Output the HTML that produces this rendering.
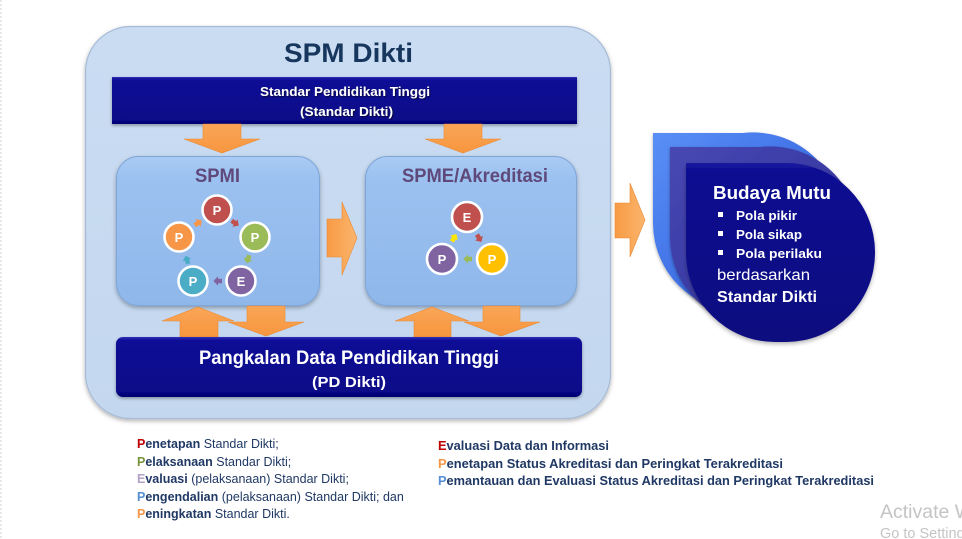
<!DOCTYPE html>
<html>
<head>
<meta charset="utf-8">
<style>
html,body{margin:0;padding:0;background:#ffffff;}
body{width:962px;height:539px;overflow:hidden;position:relative;}
svg{position:absolute;left:0;top:0;}
text{font-family:"Liberation Sans",sans-serif;}
</style>
</head>
<body>
<svg width="962" height="539" viewBox="0 0 962 539" xmlns="http://www.w3.org/2000/svg">
<defs>
  <linearGradient id="bigbox" x1="0" y1="0" x2="0" y2="1">
    <stop offset="0" stop-color="#cadcf2"/>
    <stop offset="1" stop-color="#c3d7ef"/>
  </linearGradient>
  <linearGradient id="navy" x1="0" y1="0" x2="0" y2="1">
    <stop offset="0" stop-color="#3030b8"/>
    <stop offset="0.06" stop-color="#0a0a96"/>
    <stop offset="0.9" stop-color="#070789"/>
    <stop offset="1" stop-color="#050570"/>
  </linearGradient>
  <linearGradient id="inner" x1="0" y1="0" x2="0" y2="1">
    <stop offset="0" stop-color="#a9cbf4"/>
    <stop offset="0.15" stop-color="#9bc1f0"/>
    <stop offset="1" stop-color="#8fb7ea"/>
  </linearGradient>
  <linearGradient id="orangeV" x1="0" y1="0" x2="0" y2="1">
    <stop offset="0" stop-color="#f9a657"/>
    <stop offset="1" stop-color="#f7963f"/>
  </linearGradient>
  <linearGradient id="orangeH" x1="0" y1="0" x2="1" y2="0">
    <stop offset="0" stop-color="#f79a45"/>
    <stop offset="1" stop-color="#fbb56c"/>
  </linearGradient>
  <linearGradient id="drop1" x1="0" y1="0" x2="1" y2="1">
    <stop offset="0" stop-color="#5a8ff6"/>
    <stop offset="1" stop-color="#2452d6"/>
  </linearGradient>
  <linearGradient id="drop2" x1="0" y1="0" x2="1" y2="1">
    <stop offset="0" stop-color="#4848b4"/>
    <stop offset="1" stop-color="#2e2e96"/>
  </linearGradient>
  <linearGradient id="drop3" x1="0" y1="0" x2="0" y2="1">
    <stop offset="0" stop-color="#1a1aa0"/>
    <stop offset="0.05" stop-color="#0b0b92"/>
    <stop offset="1" stop-color="#08087f"/>
  </linearGradient>
  <filter id="sh" x="-10%" y="-10%" width="120%" height="130%">
    <feDropShadow dx="0" dy="2" stdDeviation="2" flood-color="#000" flood-opacity="0.3"/>
  </filter>
  <filter id="sh2" x="-10%" y="-10%" width="120%" height="130%">
    <feDropShadow dx="0" dy="1.5" stdDeviation="1.5" flood-color="#000" flood-opacity="0.35"/>
  </filter>
  <filter id="tsh" x="-5%" y="-20%" width="110%" height="140%">
    <feDropShadow dx="1" dy="1" stdDeviation="0.6" flood-color="#000" flood-opacity="0.6"/>
  </filter>
  <g id="sa"><polygon points="-4,-2.3 0,-2.3 0,-4.6 4.6,0 0,4.6 0,2.3 -4,2.3"/></g>
</defs>

<!-- faint left dotted line -->
<line x1="1" y1="0" x2="1" y2="539" stroke="#cfcfcf" stroke-width="1" stroke-dasharray="2,2"/>

<!-- big box -->
<rect x="85.5" y="26.5" width="525" height="392" rx="45" ry="45" fill="url(#bigbox)" stroke="#a7bbd6" stroke-width="1.2" filter="url(#sh)"/>

<text x="284" y="62" font-size="27" font-weight="bold" fill="#17365d" textLength="129" lengthAdjust="spacingAndGlyphs">SPM Dikti</text>

<!-- top bar -->
<rect x="112" y="77" width="465" height="47" fill="url(#navy)" filter="url(#sh2)"/>
<text x="260" y="96" font-size="13" font-weight="bold" fill="#ffffff" textLength="170" lengthAdjust="spacingAndGlyphs" filter="url(#tsh)">Standar Pendidikan Tinggi</text>
<text x="300" y="116" font-size="13" font-weight="bold" fill="#ffffff" textLength="93" lengthAdjust="spacingAndGlyphs" filter="url(#tsh)">(Standar Dikti)</text>

<!-- top down arrows -->
<polygon points="203,124 241,124 241,139 260,139 222,153 184,139 203,139" fill="url(#orangeV)" stroke="#e98a35" stroke-width="0.6"/>
<polygon points="444,124 482,124 482,139 501,139 463,153 425,139 444,139" fill="url(#orangeV)" stroke="#e98a35" stroke-width="0.6"/>

<!-- SPMI box -->
<rect x="116.5" y="156.5" width="203" height="149" rx="22" ry="22" fill="url(#inner)" stroke="#7fa6d9" stroke-width="1" filter="url(#sh)"/>
<text x="195" y="182" font-size="19" font-weight="bold" fill="#5f497a" textLength="45" lengthAdjust="spacingAndGlyphs">SPMI</text>

<!-- SPME box -->
<rect x="365.5" y="156.5" width="211" height="149" rx="22" ry="22" fill="url(#inner)" stroke="#7fa6d9" stroke-width="1" filter="url(#sh)"/>
<text x="402" y="182" font-size="19" font-weight="bold" fill="#5f497a" textLength="146" lengthAdjust="spacingAndGlyphs">SPME/Akreditasi</text>

<!-- middle arrow -->
<polygon points="327,219 342,219 342,202 357,238 342,275 342,257 327,257" fill="url(#orangeH)" stroke="#e98a35" stroke-width="0.6"/>

<!-- SPMI cycle circles -->
<g stroke="#ffffff" stroke-width="2.6">
  <circle cx="217" cy="210" r="14.5" fill="#c0504d"/>
  <circle cx="255" cy="237" r="14.5" fill="#9bbb59"/>
  <circle cx="241" cy="281" r="14.5" fill="#8064a2"/>
  <circle cx="193" cy="281" r="14.5" fill="#4bacc6"/>
  <circle cx="179" cy="237" r="14.5" fill="#f79646"/>
</g>
<g font-size="13" font-weight="bold" fill="#ffffff" text-anchor="middle">
  <text x="217" y="215">P</text>
  <text x="255" y="242">P</text>
  <text x="241" y="286">E</text>
  <text x="193" y="286">P</text>
  <text x="179" y="242">P</text>
</g>
<use href="#sa" transform="translate(235,223) rotate(35)" fill="#c0504d"/>
<use href="#sa" transform="translate(248,259) rotate(108)" fill="#9bbb59"/>
<use href="#sa" transform="translate(218,281) rotate(180)" fill="#8064a2"/>
<use href="#sa" transform="translate(187,260) rotate(-108)" fill="#4bacc6"/>
<use href="#sa" transform="translate(198,223) rotate(-35)" fill="#f79646"/>

<!-- SPME cycle -->
<g stroke="#ffffff" stroke-width="2.6">
  <circle cx="467" cy="217" r="15" fill="#c0504d"/>
  <circle cx="492" cy="259" r="15" fill="#ffc000"/>
  <circle cx="442" cy="259" r="15" fill="#8064a2"/>
</g>
<g font-size="13" font-weight="bold" fill="#ffffff" text-anchor="middle">
  <text x="467" y="222">E</text>
  <text x="492" y="264">P</text>
  <text x="442" y="264">P</text>
</g>
<use href="#sa" transform="translate(479,238) rotate(59)" fill="#c0504d"/>
<use href="#sa" transform="translate(468,259) rotate(180)" fill="#9bbb59"/>
<use href="#sa" transform="translate(454,238) rotate(-59)" fill="#ffe600"/>

<!-- bottom arrows -->
<polygon points="198,307 234,321 218,321 218,337 180,337 180,321 162,321" fill="url(#orangeV)" stroke="#e98a35" stroke-width="0.6"/>
<polygon points="247,306 285,306 285,322 304,322 266,336 228,322 247,322" fill="url(#orangeV)" stroke="#e98a35" stroke-width="0.6"/>
<polygon points="432,307 469,321 451,321 451,337 414,337 414,321 395,321" fill="url(#orangeV)" stroke="#e98a35" stroke-width="0.6"/>
<polygon points="483,306 520,306 520,322 540,322 501,336 464,322 483,322" fill="url(#orangeV)" stroke="#e98a35" stroke-width="0.6"/>

<!-- PD Dikti bar -->
<rect x="116" y="337" width="466" height="60" rx="7" ry="7" fill="url(#navy)" filter="url(#sh2)"/>
<text x="199" y="364" font-size="19" font-weight="bold" fill="#ffffff" textLength="300" lengthAdjust="spacingAndGlyphs">Pangkalan Data Pendidikan Tinggi</text>
<text x="312" y="387" font-size="15" font-weight="bold" fill="#ffffff" textLength="74" lengthAdjust="spacingAndGlyphs">(PD Dikti)</text>

<!-- arrow to budaya -->
<polygon points="615,203 630,203 630,183 645,220 630,257 630,238 615,238" fill="url(#orangeH)" stroke="#e98a35" stroke-width="0.6"/>

<!-- Budaya Mutu teardrops -->
<path d="M653,133 H743 A89,89 0 0 1 842,222 V223 A89,89 0 0 1 753,312 H742 A89,89 0 0 1 653,223 Z" fill="url(#drop1)" filter="url(#sh2)"/>
<path d="M670,147 H760 A89,89 0 0 1 859,236 V237 A89,89 0 0 1 770,326 H759 A89,89 0 0 1 670,237 Z" fill="url(#drop2)" filter="url(#sh2)"/>
<path d="M686,163 H786 A89,89 0 0 1 875,252 V253 A89,89 0 0 1 786,342 H775 A89,89 0 0 1 686,253 Z" fill="url(#drop3)" filter="url(#sh)"/>

<text x="713" y="199" font-size="18" font-weight="bold" fill="#ffffff" textLength="118" lengthAdjust="spacingAndGlyphs">Budaya Mutu</text>
<rect x="718" y="212" width="5" height="5" fill="#ffffff"/>
<rect x="718" y="231" width="5" height="5" fill="#ffffff"/>
<rect x="718" y="250" width="5" height="5" fill="#ffffff"/>
<text x="736" y="220" font-size="13" font-weight="bold" fill="#ffffff" textLength="61" lengthAdjust="spacingAndGlyphs">Pola pikir</text>
<text x="736" y="239" font-size="13" font-weight="bold" fill="#ffffff" textLength="66" lengthAdjust="spacingAndGlyphs">Pola sikap</text>
<text x="736" y="258" font-size="13" font-weight="bold" fill="#ffffff" textLength="86" lengthAdjust="spacingAndGlyphs">Pola perilaku</text>
<text x="717" y="280" font-size="16" fill="#ffffff" textLength="93" lengthAdjust="spacingAndGlyphs">berdasarkan</text>
<text x="717" y="302" font-size="16" font-weight="bold" fill="#ffffff" textLength="100" lengthAdjust="spacingAndGlyphs">Standar Dikti</text>

<!-- bottom-left legend -->
<g font-size="12.5" fill="#1f3864">
  <text x="137" y="448"><tspan font-weight="bold" fill="#c00000">P</tspan><tspan font-weight="bold">enetapan</tspan> Standar Dikti;</text>
  <text x="137" y="466"><tspan font-weight="bold" fill="#77933c">P</tspan><tspan font-weight="bold">elaksanaan</tspan> Standar Dikti;</text>
  <text x="137" y="483"><tspan font-weight="bold" fill="#b3a2c7">E</tspan><tspan font-weight="bold">valuasi</tspan> (pelaksanaan) Standar Dikti;</text>
  <text x="137" y="501"><tspan font-weight="bold" fill="#558ed5">P</tspan><tspan font-weight="bold">engendalian</tspan> (pelaksanaan) Standar Dikti; dan</text>
  <text x="137" y="518"><tspan font-weight="bold" fill="#f79646">P</tspan><tspan font-weight="bold">eningkatan</tspan> Standar Dikti.</text>
</g>

<!-- bottom-right legend -->
<g font-size="13" font-weight="bold" fill="#1f3864">
  <text x="438" y="450" textLength="171" lengthAdjust="spacingAndGlyphs"><tspan fill="#c00000">E</tspan>valuasi Data dan Informasi</text>
  <text x="438" y="468" textLength="345" lengthAdjust="spacingAndGlyphs"><tspan fill="#f79646">P</tspan>enetapan Status Akreditasi dan Peringkat Terakreditasi</text>
  <text x="438" y="485" textLength="436" lengthAdjust="spacingAndGlyphs"><tspan fill="#558ed5">P</tspan>emantauan dan Evaluasi Status Akreditasi dan Peringkat Terakreditasi</text>
</g>

<!-- activate windows watermark -->
<text x="880" y="518" font-size="19.5" fill="#c4c4c4">Activate Windows</text>
<text x="880" y="538" font-size="14.5" fill="#c4c4c4">Go to Settings to activate Windows.</text>
</svg>
</body>
</html>
